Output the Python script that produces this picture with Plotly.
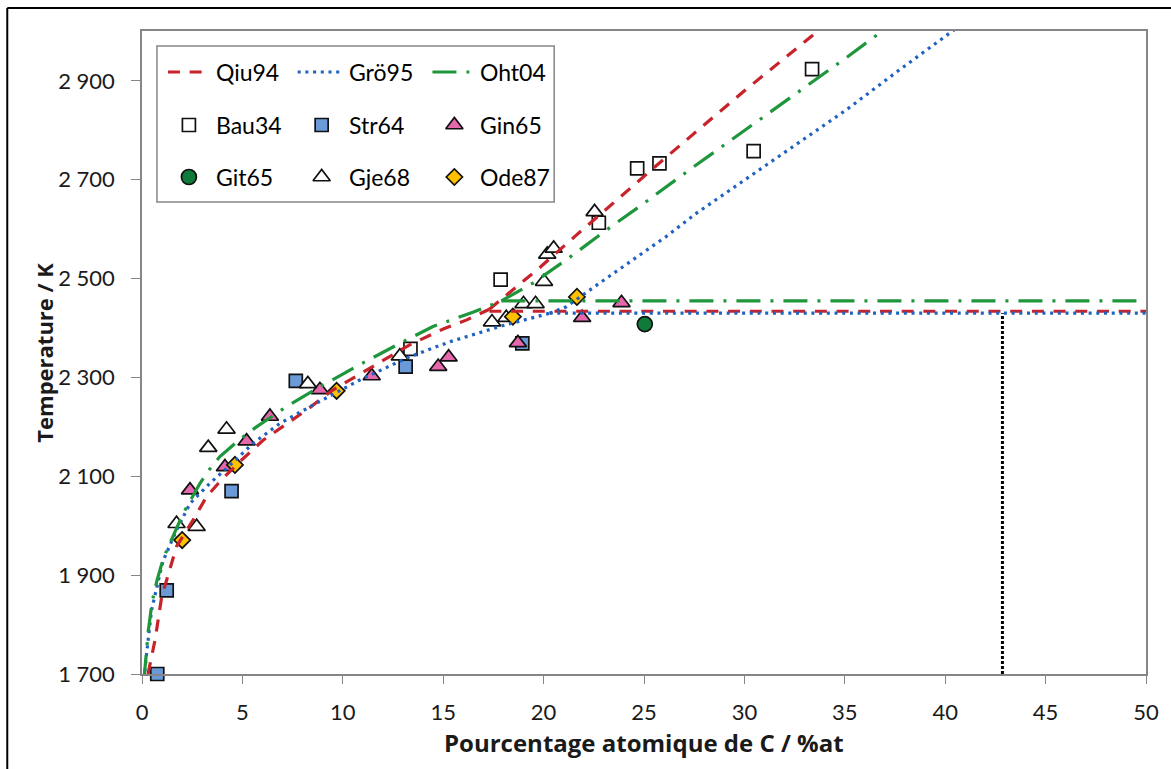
import plotly.graph_objects as go

# Liquidus curves
qiu94_left_x = [0.30, 0.43, 0.65, 0.98, 1.30, 1.72, 2.55, 3.22, 3.96, 4.88, 6.03, 7.20, 8.19, 9.52, 11.5, 13.33, 15.0, 16.15, 17.3]
qiu94_left_t = [1700, 1728, 1769, 1856, 1900, 1958, 2012, 2059, 2093, 2130, 2173, 2207, 2234, 2275, 2322, 2366, 2398, 2416, 2438]
qiu94_right_x = [17.3, 19.8, 21.63, 23.45, 25.94, 30.0, 34.0]
qiu94_right_t = [2438, 2522, 2588, 2652, 2740, 2880, 3012]
qiu94_eut_x = [17.3, 50]
qiu94_eut_t = [2434, 2434]

gro95_left_x = [0.08, 0.15, 0.23, 0.48, 0.90, 1.06, 1.72, 2.39, 3.38, 4.21, 5.54, 6.87, 8.69, 10.85, 13.33, 15.32, 17.81, 20.3]
gro95_left_t = [1690, 1708, 1742, 1830, 1904, 1930, 1991, 2045, 2086, 2116, 2167, 2207, 2248, 2295, 2342, 2372, 2403, 2430]
gro95_right_x = [20.3, 21.13, 22.79, 24.44, 26.1, 27.6, 30.0, 35.06, 37.71, 40.2, 40.5]
gro95_right_t = [2430, 2443, 2491, 2538, 2585, 2632, 2699, 2841, 2922, 2996, 3005]
gro95_eut_x = [20.3, 50]
gro95_eut_t = [2430, 2430]

oht04_left_x = [0.10, 0.15, 0.31, 0.50, 0.75, 1.00, 1.23, 1.56, 2.05, 2.89, 3.38, 3.88, 4.88, 5.70, 7.20, 8.86, 10.8, 12.84, 14.49, 16.48, 17.9]
oht04_left_t = [1690, 1715, 1786, 1845, 1890, 1925, 1950, 1980, 2025, 2086, 2115, 2140, 2175, 2200, 2241, 2281, 2325, 2369, 2403, 2432, 2455]
oht04_right_x = [17.9, 19.47, 21.13, 23.12, 24.78, 27.26, 35.14, 37.0]
oht04_right_t = [2455, 2491, 2538, 2598, 2646, 2720, 2949, 3005]
oht04_eut_x = [17.9, 50]
oht04_eut_t = [2455, 2455]

vline_x = [42.85, 42.85]
vline_t = [1700, 2430]

# Experimental points
bau34_x = [13.37, 17.86, 22.75, 24.66, 25.77, 30.46, 33.37]
bau34_t = [2358, 2498, 2613, 2723, 2733, 2758, 2924]

str64_x = [0.76, 1.23, 4.46, 7.66, 13.13, 18.94]
str64_t = [1700, 1869, 2070, 2293, 2322, 2369]

gin65_x = [2.39, 4.13, 5.21, 6.37, 8.86, 11.44, 14.75, 15.27, 18.72, 21.92, 23.88]
gin65_t = [2072, 2119, 2171, 2221, 2275, 2303, 2322, 2341, 2370, 2421, 2451]

git65_x = [25.04]
git65_t = [2408]

gje68_x = [1.72, 2.72, 3.30, 4.21, 8.26, 12.84, 17.43, 18.14, 19.0, 19.6, 20.02, 20.18, 20.5, 22.54]
gje68_t = [2004, 1998, 2158, 2195, 2287, 2343, 2412, 2421, 2449, 2449, 2494, 2549, 2561, 2635]

ode87_x = [2.0, 4.63, 9.69, 18.47, 21.66]
ode87_t = [1971, 2123, 2273, 2423, 2463]

x_ticks = list(range(0, 51, 5))
y_ticks = [1700, 1900, 2100, 2300, 2500, 2700, 2900]

# ---------------- styles ----------------
FONT = "Lato"
TITLE_FONT = "Open Sans"
RED = "#C8232B"
BLUE = "#1F62BF"
GREEN = "#1E963C"
EDGE = "#111111"
GREY = "#868686"

line_styles = {
    "Qiu94": dict(color=RED, width=3.2, dash="12px,9.7px"),
    "Grö95": dict(color=BLUE, width=3.2, dash="3px,4.7px"),
    "Oht04": dict(color=GREEN, width=3.2, dash="24px,10px,3px,10px"),
}
marker_styles = {
    "Bau34": dict(symbol="square", size=13, color="white", line=dict(color=EDGE, width=1.7)),
    "Str64": dict(symbol="square", size=13, color="#6A9BD8", line=dict(color=EDGE, width=1.7)),
    "Gin65": dict(symbol="triangle-up", size=15, color="#E567AC", line=dict(color=EDGE, width=1.7)),
    "Git65": dict(symbol="circle", size=15, color="#0F7A3A", line=dict(color=EDGE, width=1.7)),
    "Gje68": dict(symbol="triangle-up", size=15, color="white", line=dict(color=EDGE, width=1.7)),
    "Ode87": dict(symbol="diamond", size=12.5, color="#FFC000", line=dict(color=EDGE, width=1.7)),
}

fig = go.Figure()

# experimental markers
for name, xs, ts in [("Bau34", bau34_x, bau34_t), ("Str64", str64_x, str64_t),
                     ("Gin65", gin65_x, gin65_t), ("Git65", git65_x, git65_t),
                     ("Gje68", gje68_x, gje68_t), ("Ode87", ode87_x, ode87_t)]:
    fig.add_trace(go.Scatter(x=xs, y=ts, mode="markers", name=name, marker=marker_styles[name],
                             cliponaxis=False, showlegend=False))

# calculated curves
for name, segs in [("Qiu94", [(qiu94_left_x, qiu94_left_t), (qiu94_right_x, qiu94_right_t), (qiu94_eut_x, qiu94_eut_t)]),
                   ("Grö95", [(gro95_left_x, gro95_left_t), (gro95_right_x, gro95_right_t), (gro95_eut_x, gro95_eut_t)]),
                   ("Oht04", [(oht04_left_x, oht04_left_t), (oht04_right_x, oht04_right_t), (oht04_eut_x, oht04_eut_t)])]:
    for xs, ts in segs:
        fig.add_trace(go.Scatter(x=xs, y=ts, mode="lines", name=name, line=line_styles[name],
                                 showlegend=False))

fig.add_trace(go.Scatter(x=vline_x, y=vline_t, mode="lines", line=dict(color="black", width=3, dash="3px,2px"),
                         showlegend=False))

# ---------------- manual legend (overlay axes in pixel units) ----------------
legend_rows = [
    [("line", "Qiu94"), ("line", "Grö95"), ("line", "Oht04")],
    [("marker", "Bau34"), ("marker", "Str64"), ("marker", "Gin65")],
    [("marker", "Git65"), ("marker", "Gje68"), ("marker", "Ode87")],
]
row_y = [72, 125, 177]
line_x0 = [168, 298, 433]
line_x1 = [202, 342, 470]
mark_x = [189, 322, 455]
text_x = [214, 347, 479]

for r, row in enumerate(legend_rows):
    for c, (kind, name) in enumerate(row):
        if kind == "line":
            fig.add_trace(go.Scatter(x=[line_x0[c], line_x1[c]], y=[row_y[r], row_y[r]], mode="lines",
                                     line=line_styles[name], xaxis="x2", yaxis="y2", showlegend=False,
                                     hoverinfo="skip"))
        else:
            fig.add_trace(go.Scatter(x=[mark_x[c]], y=[row_y[r]], mode="markers", marker=marker_styles[name],
                                     xaxis="x2", yaxis="y2", showlegend=False, hoverinfo="skip"))
        fig.add_annotation(x=text_x[c], y=row_y[r], xref="x2", yref="y2", text=name, showarrow=False,
                           xanchor="left", yanchor="middle", font=dict(family=FONT, size=23, color="black"))

fig.add_shape(type="rect", xref="x2", yref="y2", x0=157, x1=555, y0=46, y1=202,
              line=dict(color=GREY, width=1.5), fillcolor="white", layer="below")

# outer frame lines (top and left)
fig.add_shape(type="line", xref="paper", yref="paper", x0=-0.1342, x1=1.05, y0=1.0358, y1=1.0358,
              line=dict(color="black", width=2))
fig.add_shape(type="line", xref="paper", yref="paper", x0=-0.1342, x1=-0.1342, y0=-0.2, y1=1.0358,
              line=dict(color="black", width=2))

# axis titles
fig.add_annotation(x=0.5, y=-0.1058, xref="paper", yref="paper", text="<b>Pourcentage atomique de C / %at</b>",
                   showarrow=False, xanchor="center", yanchor="middle",
                   font=dict(family=TITLE_FONT, size=24, color="#1a1a1a"))
fig.add_annotation(x=-0.0984, y=0.5, xref="paper", yref="paper", text="<b>Temperature / K</b>",
                   showarrow=False, textangle=-90, xanchor="center", yanchor="middle",
                   font=dict(family=TITLE_FONT, size=22, color="#1a1a1a"))

fig.update_layout(
    width=1171, height=769,
    margin=dict(l=142, r=23, t=31, b=95),
    paper_bgcolor="white", plot_bgcolor="white",
    separators=", ",
    showlegend=False,
    font=dict(family=FONT, size=22, color="#1a1a1a"),
    xaxis=dict(range=[0, 50], tickvals=x_ticks, ticks="outside", ticklen=8, tickwidth=1.3, tickcolor=GREY,
               showline=True, linecolor=GREY, linewidth=1.5, mirror=True, showgrid=False, zeroline=False,
               ticklabelstandoff=10, tickfont=dict(family=FONT, size=22, color="#1a1a1a")),
    yaxis=dict(range=[1700, 3001], tickvals=y_ticks, separatethousands=True, tickformat=",d",
               ticks="outside", ticklen=9, tickwidth=1.3, tickcolor=GREY,
               showline=True, linecolor=GREY, linewidth=1.5, mirror=True, showgrid=False, zeroline=False,
               ticklabelstandoff=12, tickfont=dict(family=FONT, size=22, color="#1a1a1a")),
    xaxis2=dict(domain=[0, 1], range=[142, 1148], overlaying="x", anchor="y2", visible=False, fixedrange=True),
    yaxis2=dict(domain=[0, 1], range=[674, 31], overlaying="y", anchor="x2", visible=False, fixedrange=True),
)

fig.write_html("out.html")
